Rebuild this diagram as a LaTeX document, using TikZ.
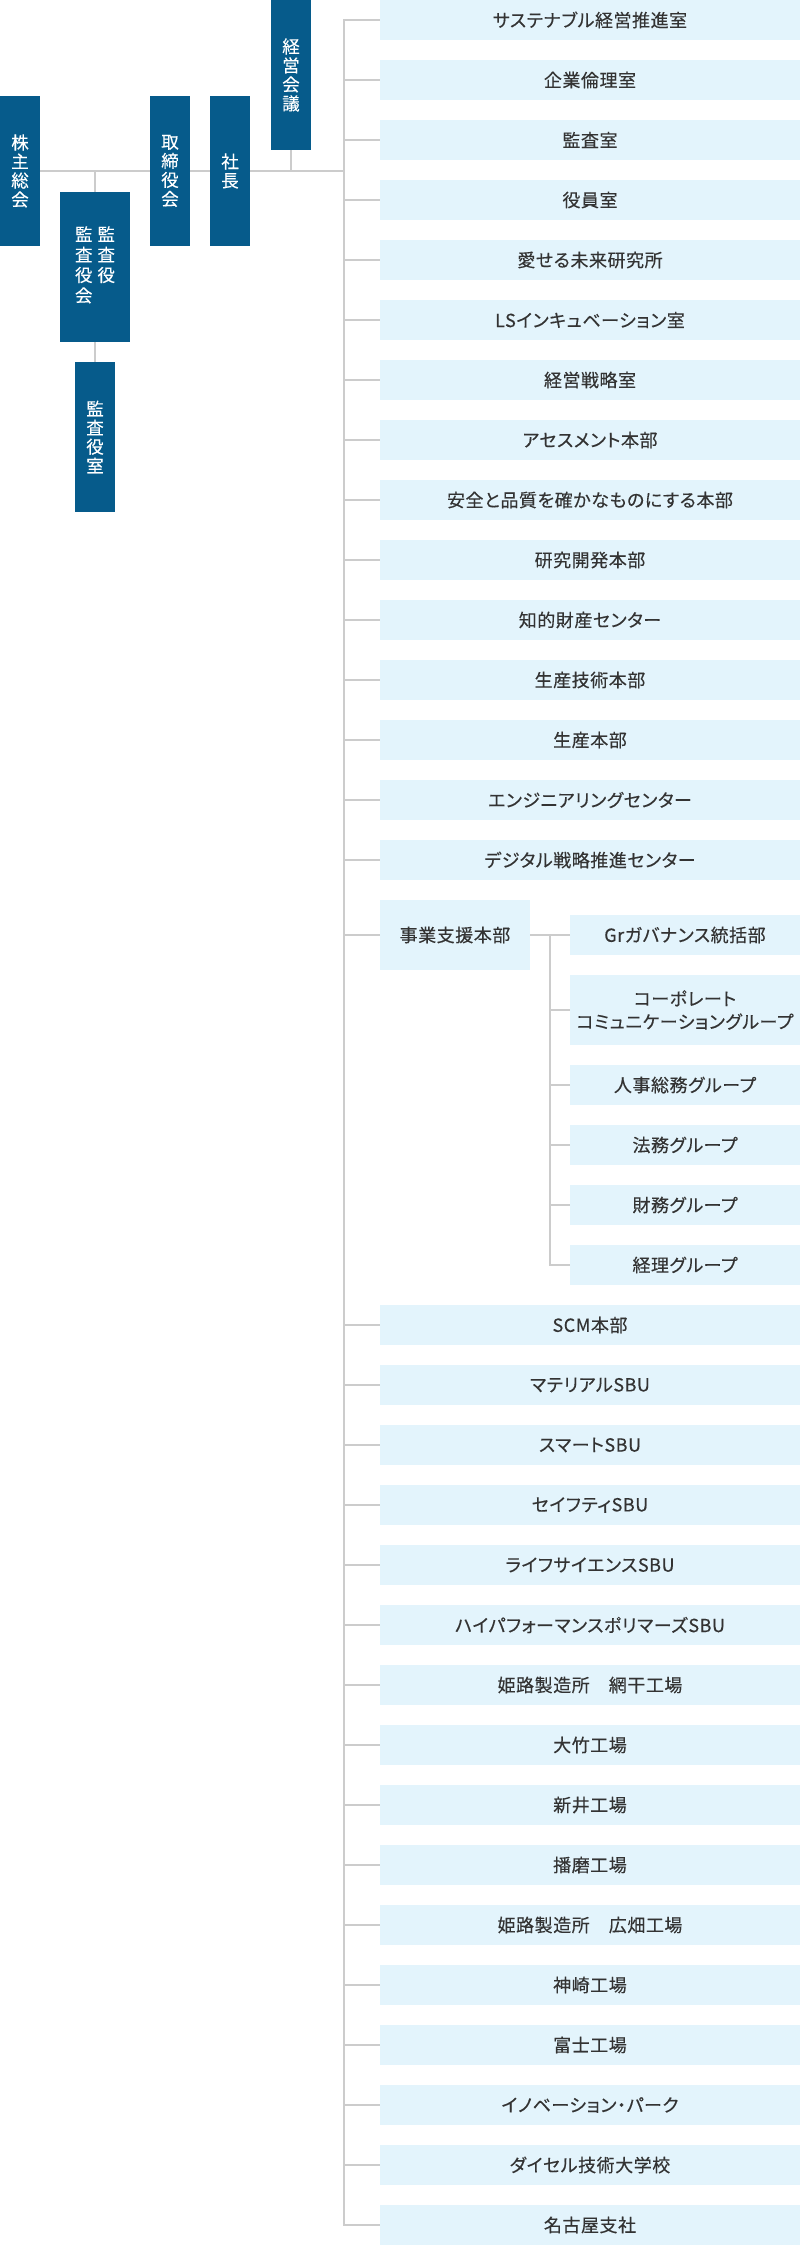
\documentclass[tikz,border=0pt]{standalone}
\usepackage{fontspec}
\setmainfont{Noto Sans CJK JP}[RawFeature=+palt, LetterSpace=3, FakeBold=0.3]
\definecolor{dblue}{HTML}{065B8B}
\definecolor{lblue}{HTML}{E3F4FC}
\definecolor{linec}{HTML}{CCCCCC}
\definecolor{txt}{HTML}{333333}
\begin{document}
\begin{tikzpicture}[x=1pt,y=-1pt,
  dbox/.style={fill=dblue, text=white, inner sep=0pt, align=center,
    minimum width=40pt, minimum height=150pt,
    font=\fontsize{17.5}{19}\selectfont},
  lbox/.style={fill=lblue, text=txt, inner sep=0pt, align=center,
    minimum width=420pt, minimum height=40pt,
    font=\fontsize{18}{21}\selectfont},
  sbox/.style={lbox, minimum width=230pt},
  conn/.style={draw=linec, line width=2pt, line join=miter}]
\useasboundingbox (0,0) rectangle (800,2245);
% dark boxes
\node[dbox] (kabu) at (20,171) {株\\主\\総\\会};
\node[dbox, minimum width=70pt] (kansa) at (95,267)
  {\fontsize{17.5}{19}\selectfont\begin{tabular}{@{}c@{\hspace{5pt}}c@{}}監&監\\査&査\\役&役\\会&\end{tabular}};
\node[dbox] (kansashitsu) at (95,437) {監\\査\\役\\室};
\node[dbox] (tori) at (170,171) {取\\締\\役\\会};
\node[dbox] (shacho) at (230,171) {社\\長};
\node[dbox] (keiei) at (291,75) {経\\営\\会\\議};
\coordinate (tx) at (344,0);
\coordinate (sx) at (550,0);
% right column, first group
\foreach \t [count=\i from 0] in {サステナブル経営推進室,企業倫理室,監査室,役員室,愛せる未来研究所,LSインキュベーション室,経営戦略室,アセスメント本部,安全と品質を確かなものにする本部,研究開発本部,知的財産センター,生産技術本部,生産本部,エンジニアリングセンター,デジタル戦略推進センター}
  \node[lbox] (b\i) at (590,{60*\i+20}) {\t};
\node[lbox, minimum width=150pt, minimum height=70pt] (jigyo) at (455,935) {事業支援本部};
\node[sbox] (s1) at (685,935) {Grガバナンス統括部};
\node[sbox, minimum height=70pt, font=\fontsize{18}{23}\selectfont] (s2) at (685,1010) {コーポレート\\コミュニケーショングループ};
\node[sbox] (s3) at (685,1085) {人事総務グループ};
\node[sbox] (s4) at (685,1145) {法務グループ};
\node[sbox] (s5) at (685,1205) {財務グループ};
\node[sbox] (s6) at (685,1265) {経理グループ};
\foreach \t [count=\i from 0] in {SCM本部,マテリアルSBU,スマートSBU,セイフティSBU,ライフサイエンスSBU,ハイパフォーマンスポリマーズSBU,姫路製造所　網干工場,大竹工場,新井工場,播磨工場,姫路製造所　広畑工場,神崎工場,富士工場,イノベーション・パーク,ダイセル技術大学校,名古屋支社}
  \node[lbox] (c\i) at (590,{60*\i+1325}) {\t};
% connectors
\draw[conn] (kabu.east) -- (tori.west);
\draw[conn] (tori.east) -- (shacho.west);
\draw[conn] (shacho.east) -- (shacho.east -| tx);
\draw[conn] (kansa.north) -- (kansa.north |- kabu.east);
\draw[conn] (kansa.south) -- (kansashitsu.north);
\draw[conn] (keiei.south) -- (keiei.south |- shacho.east);
\draw[conn] (b0.west) -- (b0.west -| tx) -- (c15.west -| tx) -- (c15.west);
\foreach \i in {1,...,14} \draw[conn] (b\i.west) -- (b\i.west -| tx);
\draw[conn] (jigyo.west) -- (jigyo.west -| tx);
\foreach \i in {0,...,14} \draw[conn] (c\i.west) -- (c\i.west -| tx);
\draw[conn] (jigyo.east) -- (s1.west);
\draw[conn] (s1.west -| sx) -- (s6.west -| sx) -- (s6.west);
\foreach \i in {2,...,5} \draw[conn] (s\i.west) -- (s\i.west -| sx);
\end{tikzpicture}
\end{document}
